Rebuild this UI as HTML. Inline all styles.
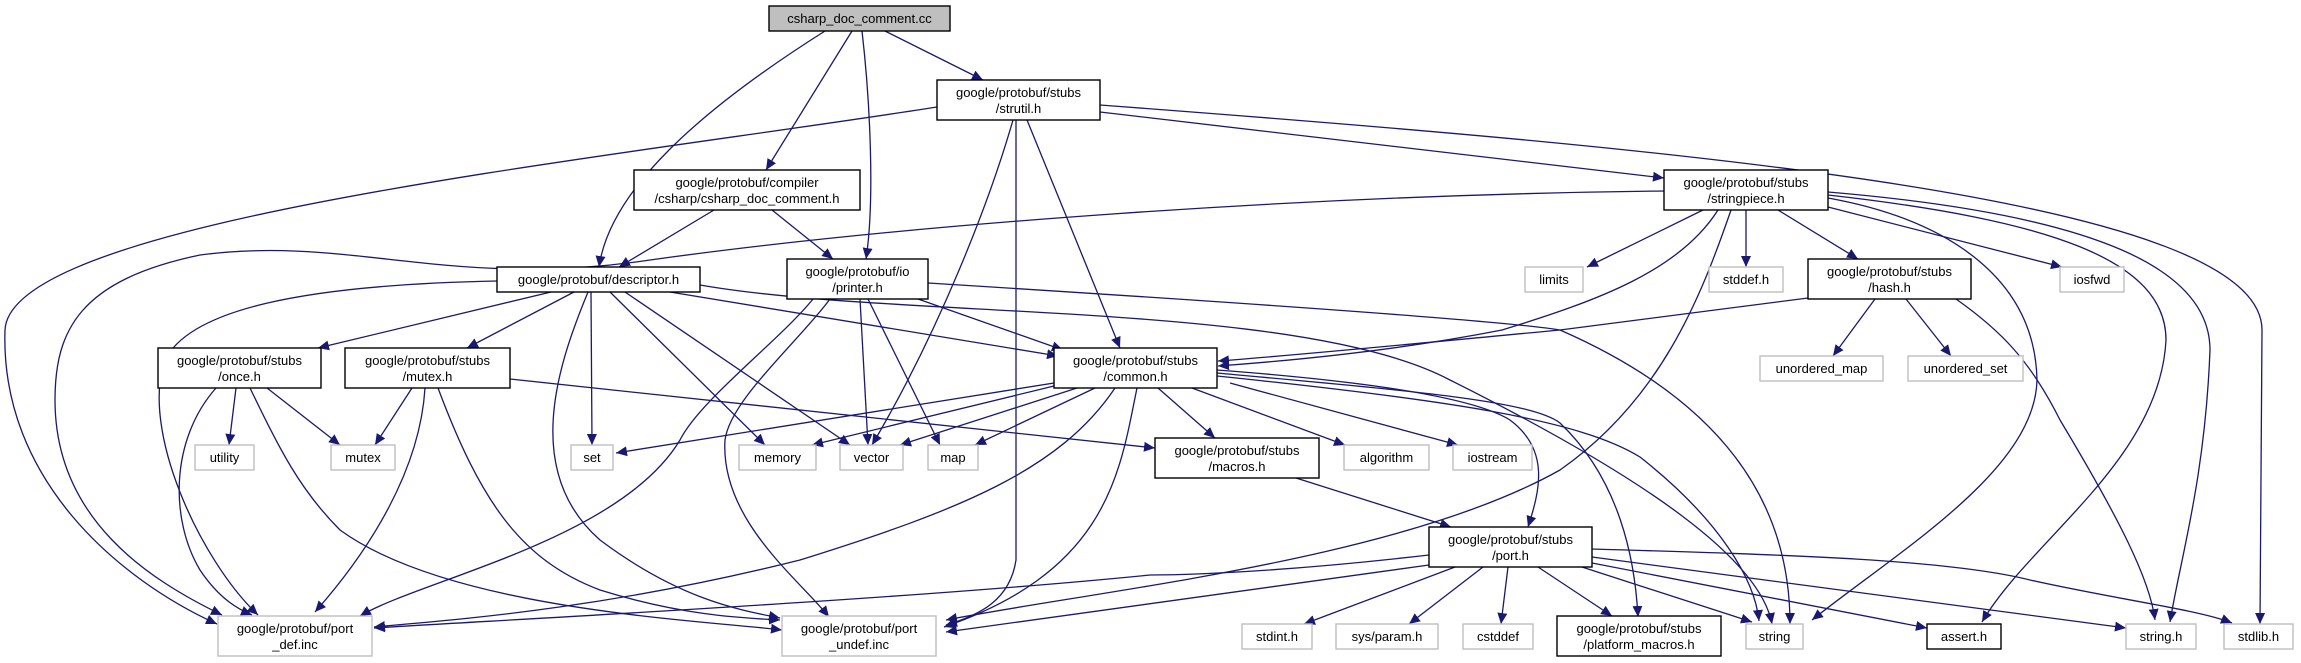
<!DOCTYPE html>
<html><head><meta charset="utf-8"><style>
html,body{margin:0;padding:0;background:#fff}
svg{display:block}
text{font-family:"Liberation Sans",sans-serif;font-size:13px;fill:#000;text-anchor:middle}
.e{fill:none;stroke:#191970;stroke-width:1.3;marker-end:url(#a)}
.n{fill:#fff;stroke:#000;stroke-width:1.4}
.g{fill:#fff;stroke:#bfbfbf;stroke-width:1.4}
</style></head><body>
<svg width="2301" height="663" viewBox="0 0 2301 663" xmlns="http://www.w3.org/2000/svg">
<defs><marker id="a" markerUnits="userSpaceOnUse" markerWidth="12" markerHeight="10" refX="11" refY="5" orient="auto"><path d="M0,0 L11,5 L0,10 Z" fill="#191970"/></marker></defs>
<!-- edges -->
<path class="e" d="M885,31 L983,80"/>
<path class="e" d="M852,31 L766,170"/>
<path class="e" d="M862,31 C870,100 875,200 866,259"/>
<path class="e" d="M825,31 C700,110 610,190 599,267"/>
<path class="e" d="M937,107 C600,160 10,220 5,330 C0,480 120,580 217,624"/>
<path class="e" d="M1100,112 L1664,178"/>
<path class="e" d="M1100,105 C1700,150 2262,200 2262,330 L2260,624"/>
<path class="e" d="M1013,120 C990,200 940,330 872,445"/>
<path class="e" d="M1016,120 L1016,560 C1010,600 980,615 946,625"/>
<path class="e" d="M1027,120 L1120,348"/>
<path class="e" d="M714,210 L619,267"/>
<path class="e" d="M772,210 L833,259"/>
<path class="e" d="M497,281 C300,285 190,310 165,360 C140,430 200,560 258,615"/>
<path class="e" d="M551,292 L318,348"/>
<path class="e" d="M574,292 L467,348"/>
<path class="e" d="M591,292 L592,445"/>
<path class="e" d="M610,292 L765,445"/>
<path class="e" d="M625,292 L850,445"/>
<path class="e" d="M588,292 C560,360 520,470 600,540 C680,600 740,610 780,618"/>
<path class="e" d="M670,292 L1058,356"/>
<path class="e" d="M700,285 C900,320 1300,300 1450,380 C1650,480 1760,560 1772,624"/>
<path class="e" d="M813,299 C780,340 700,400 680,440 C620,540 420,580 360,616"/>
<path class="e" d="M830,299 C800,340 730,400 725,440 C720,520 800,580 829,617"/>
<path class="e" d="M860,299 L868,445"/>
<path class="e" d="M868,299 L940,445"/>
<path class="e" d="M918,299 L1063,350"/>
<path class="e" d="M928,283 C1200,300 1500,320 1560,330 C1720,400 1790,500 1790,624"/>
<path class="e" d="M1664,191 C1300,195 900,225 650,260 C450,290 350,235 200,255 C80,280 55,330 55,400 C55,520 150,580 222,615"/>
<path class="e" d="M1703,210 L1587,267"/>
<path class="e" d="M1718,210 C1680,270 1600,300 1502,330 C1400,350 1300,360 1218,366"/>
<path class="e" d="M1731,210 C1700,300 1660,400 1560,470 C1400,560 1100,590 946,620"/>
<path class="e" d="M1746,210 L1746,267"/>
<path class="e" d="M1778,210 L1858,259"/>
<path class="e" d="M1828,207 L2062,267"/>
<path class="e" d="M1828,198 C1950,220 2035,280 2037,380 C2035,470 1900,550 1812,620"/>
<path class="e" d="M1828,195 C2050,220 2166,260 2166,340 C2160,460 2030,540 1982,622"/>
<path class="e" d="M1828,192 C2100,215 2210,270 2210,350 C2205,480 2180,560 2170,622"/>
<path class="e" d="M1808,298 L1560,330 C1400,345 1300,355 1218,361"/>
<path class="e" d="M1875,299 L1833,356"/>
<path class="e" d="M1906,299 L1951,356"/>
<path class="e" d="M1956,299 C2000,330 2030,360 2060,420 C2120,520 2150,580 2155,620"/>
<path class="e" d="M216,388 C170,440 170,520 200,570 C220,600 240,610 252,615"/>
<path class="e" d="M236,388 L229,445"/>
<path class="e" d="M267,388 L340,445"/>
<path class="e" d="M250,388 C280,450 300,490 340,530 C450,610 700,620 782,630"/>
<path class="e" d="M412,388 L375,445"/>
<path class="e" d="M425,388 C420,470 370,550 315,612"/>
<path class="e" d="M438,388 C480,500 520,560 600,590 C680,615 740,618 780,620"/>
<path class="e" d="M510,379 L1155,448"/>
<path class="e" d="M1054,383 L616,453"/>
<path class="e" d="M1054,386 L812,445"/>
<path class="e" d="M1077,388 L900,445"/>
<path class="e" d="M1095,388 L975,445"/>
<path class="e" d="M1115,388 C1060,470 960,510 800,560 C600,610 450,620 374,627"/>
<path class="e" d="M1137,388 C1120,470 1110,570 944,627"/>
<path class="e" d="M1158,388 L1215,438"/>
<path class="e" d="M1192,388 L1345,445"/>
<path class="e" d="M1230,383 L1458,445"/>
<path class="e" d="M1217,370 C1350,380 1470,395 1510,420 C1550,450 1540,490 1528,527"/>
<path class="e" d="M1217,373 C1400,390 1530,400 1560,423 C1620,480 1635,560 1638,617"/>
<path class="e" d="M1217,376 C1450,400 1580,420 1640,457 C1720,520 1755,580 1759,621"/>
<path class="e" d="M1296,478 L1451,527"/>
<path class="e" d="M1429,555 C1300,570 1200,575 1150,575 C900,600 500,620 374,628"/>
<path class="e" d="M1429,565 L946,632"/>
<path class="e" d="M1455,567 L1304,624"/>
<path class="e" d="M1483,567 L1409,624"/>
<path class="e" d="M1508,567 L1501,624"/>
<path class="e" d="M1538,567 L1612,616"/>
<path class="e" d="M1582,567 L1752,622"/>
<path class="e" d="M1592,563 L1927,628"/>
<path class="e" d="M1592,557 L2126,628"/>
<path class="e" d="M1591,549 C1800,555 1950,560 2030,580 C2120,600 2200,610 2232,623"/>
<!-- nodes -->
<rect x="769" y="6" width="181" height="25" fill="#bfbfbf" stroke="#000" stroke-width="1.4"/><text x="859.5" y="23">csharp_doc_comment.cc</text>
<rect class="n" x="937" y="80" width="163" height="40"/><text x="1018.5" y="97">google/protobuf/stubs</text><text x="1018.5" y="113">/strutil.h</text>
<rect class="n" x="634" y="170" width="226" height="40"/><text x="747" y="187">google/protobuf/compiler</text><text x="747" y="203">/csharp/csharp_doc_comment.h</text>
<rect class="n" x="1664" y="170" width="164" height="40"/><text x="1746" y="187">google/protobuf/stubs</text><text x="1746" y="203">/stringpiece.h</text>
<rect class="n" x="497" y="267" width="203" height="25"/><text x="598.5" y="284">google/protobuf/descriptor.h</text>
<rect class="n" x="787" y="259" width="141" height="40"/><text x="857.5" y="276">google/protobuf/io</text><text x="857.5" y="292">/printer.h</text>
<rect class="g" x="1525" y="267" width="58" height="25"/><text x="1554" y="284">limits</text>
<rect class="g" x="1709" y="267" width="74" height="25"/><text x="1746" y="284">stddef.h</text>
<rect class="n" x="1808" y="259" width="163" height="40"/><text x="1889.5" y="276">google/protobuf/stubs</text><text x="1889.5" y="292">/hash.h</text>
<rect class="g" x="2060" y="267" width="64" height="25"/><text x="2092" y="284">iosfwd</text>
<rect class="g" x="1760" y="356" width="123" height="25"/><text x="1821.5" y="373">unordered_map</text>
<rect class="g" x="1908" y="356" width="115" height="25"/><text x="1965.5" y="373">unordered_set</text>
<rect class="n" x="158" y="348" width="163" height="40"/><text x="239.5" y="365">google/protobuf/stubs</text><text x="239.5" y="381">/once.h</text>
<rect class="n" x="345" y="348" width="165" height="40"/><text x="427.5" y="365">google/protobuf/stubs</text><text x="427.5" y="381">/mutex.h</text>
<rect class="n" x="1054" y="348" width="163" height="40"/><text x="1135.5" y="365">google/protobuf/stubs</text><text x="1135.5" y="381">/common.h</text>
<rect class="g" x="195" y="445" width="59" height="25"/><text x="224.5" y="462">utility</text>
<rect class="g" x="331" y="445" width="64" height="25"/><text x="363" y="462">mutex</text>
<rect class="g" x="571" y="445" width="42" height="25"/><text x="592" y="462">set</text>
<rect class="g" x="739" y="445" width="77" height="25"/><text x="777.5" y="462">memory</text>
<rect class="g" x="840" y="445" width="63" height="25"/><text x="871.5" y="462">vector</text>
<rect class="g" x="928" y="445" width="50" height="25"/><text x="953" y="462">map</text>
<rect class="n" x="1155" y="438" width="164" height="40"/><text x="1237" y="455">google/protobuf/stubs</text><text x="1237" y="471">/macros.h</text>
<rect class="g" x="1344" y="445" width="85" height="25"/><text x="1386.5" y="462">algorithm</text>
<rect class="g" x="1453" y="445" width="79" height="25"/><text x="1492.5" y="462">iostream</text>
<rect class="n" x="1429" y="527" width="163" height="40"/><text x="1510.5" y="544">google/protobuf/stubs</text><text x="1510.5" y="560">/port.h</text>
<rect class="g" x="218" y="616" width="154" height="40"/><text x="295" y="633">google/protobuf/port</text><text x="295" y="649">_def.inc</text>
<rect class="g" x="782" y="616" width="154" height="40"/><text x="859" y="633">google/protobuf/port</text><text x="859" y="649">_undef.inc</text>
<rect class="g" x="1242" y="624" width="70" height="25"/><text x="1277" y="641">stdint.h</text>
<rect class="g" x="1336" y="624" width="102" height="25"/><text x="1387" y="641">sys/param.h</text>
<rect class="g" x="1463" y="624" width="70" height="25"/><text x="1498" y="641">cstddef</text>
<rect class="n" x="1557" y="616" width="164" height="40"/><text x="1639" y="633">google/protobuf/stubs</text><text x="1639" y="649">/platform_macros.h</text>
<rect class="g" x="1746" y="624" width="57" height="25"/><text x="1774.5" y="641">string</text>
<rect class="n" x="1927" y="624" width="74" height="25"/><text x="1964" y="641">assert.h</text>
<rect class="g" x="2126" y="624" width="70" height="25"/><text x="2161" y="641">string.h</text>
<rect class="g" x="2224" y="624" width="69" height="25"/><text x="2258.5" y="641">stdlib.h</text>
</svg>
</body></html>
